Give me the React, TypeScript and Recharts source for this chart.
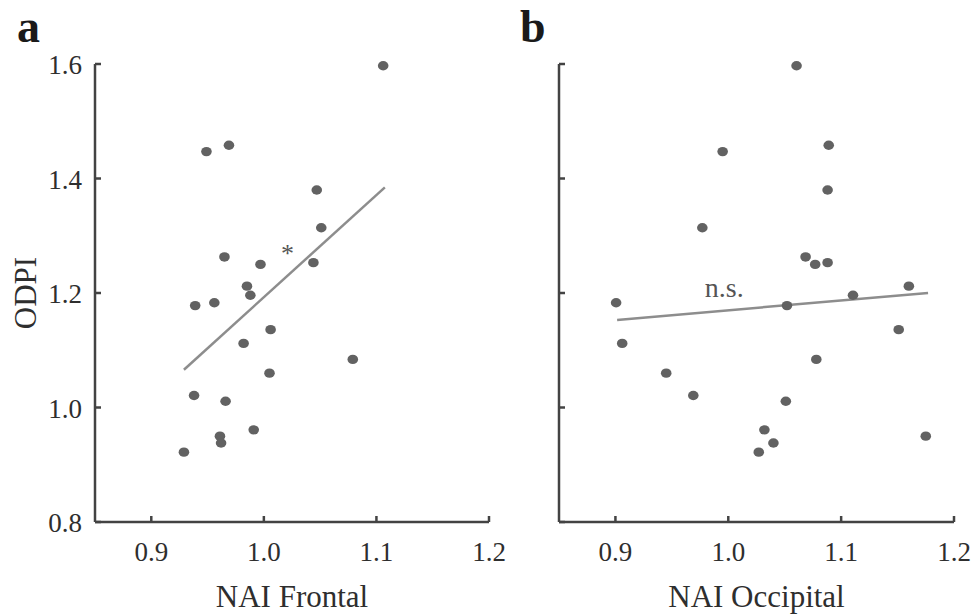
import React from 'react';
import { ScatterChart, Scatter, XAxis, YAxis, ReferenceDot } from 'recharts';

// ODPI per subject, shared by both panels
const odpi = [
  1.597, 1.458, 1.447, 1.38, 1.314, 1.263, 1.253, 1.25, 1.212, 1.196, 1.183,
  1.178, 1.136, 1.112, 1.084, 1.06, 1.021, 1.011, 0.961, 0.95, 0.938, 0.922,
];
const naiFrontal = [
  1.106, 0.969, 0.949, 1.047, 1.051, 0.965, 1.044, 0.997, 0.985, 0.988, 0.956,
  0.939, 1.006, 0.982, 1.079, 1.005, 0.938, 0.966, 0.991, 0.961, 0.962, 0.929,
];
const naiOccipital = [
  1.0605, 1.089, 0.995, 1.088, 0.977, 1.0685, 1.088, 1.077, 1.16, 1.1105, 0.9006,
  1.052, 1.151, 0.906, 1.078, 0.945, 0.969, 1.051, 1.032, 1.175, 1.04, 1.027,
];

// regression line end points
const fitFrontal = [
  { x: 0.929, y: 1.066 },
  { x: 1.1075, y: 1.3845 },
];
const fitOccipital = [
  { x: 0.9015, y: 1.153 },
  { x: 1.177, y: 1.2 },
];

const xTicks = [0.9, 1.0, 1.1, 1.2];
const yTicks = [0.8, 1.0, 1.2, 1.4, 1.6];
const xDomain = [0.85, 1.2];
const yDomain = [0.8, 1.6];

const FONT = '"Liberation Serif", "Times New Roman", serif';
const AXIS = '#434343';
const TEXT = '#2e2e2e';
const DOT = '#626262';
const FIT = '#8d8d8d';

const frontalPts = naiFrontal.map((x, i) => ({ x, y: odpi[i] }));
const occipitalPts = naiOccipital.map((x, i) => ({ x, y: odpi[i] }));

const dotShape = (p: any) => <ellipse cx={p.cx} cy={p.cy} rx={5.3} ry={4.7} fill={DOT} />;
const noShape = () => <g />;

// inward tick marks, labels outside
const XTick = (p: any) => (
  <g>
    <line x1={p.x} x2={p.x} y1={p.y} y2={p.y - 6} stroke={AXIS} strokeWidth={2.5} />
    <text x={p.x} y={p.y + 39} textAnchor="middle" fontFamily={FONT} fontSize={27} fill={TEXT}>
      {p.payload.value.toFixed(1)}
    </text>
  </g>
);
const makeYTick = (showText: boolean) => (p: any) => (
  <g>
    <line x1={p.x} x2={p.x + 6} y1={p.y} y2={p.y} stroke={AXIS} strokeWidth={2.5} />
    {showText && (
      <text x={p.x - 13} y={p.y + 10} textAnchor="end" fontFamily={FONT} fontSize={27} fill={TEXT}>
        {p.payload.value.toFixed(1)}
      </text>
    )}
  </g>
);

function Panel({
  pts,
  fit,
  xLabel,
  showY,
  note,
  width,
  margin,
  yWidth,
}: {
  pts: { x: number; y: number }[];
  fit: { x: number; y: number }[];
  xLabel: string;
  showY: boolean;
  note: { x: number; y: number; text: string; size: number };
  width: number;
  margin: { top: number; right: number; bottom: number; left: number };
  yWidth: number;
}) {
  return (
    <ScatterChart width={width} height={615} margin={margin}>
      <XAxis
        type="number"
        dataKey="x"
        domain={xDomain}
        ticks={xTicks}
        height={60}
        stroke={AXIS}
        strokeWidth={2.5}
        tickLine={false}
        tickSize={0}
        tickMargin={0}
        tick={XTick}
        label={{ value: xLabel, position: 'bottom', offset: 3, fontFamily: FONT, fontSize: 31, fill: TEXT }}
      />
      <YAxis
        type="number"
        dataKey="y"
        domain={yDomain}
        ticks={yTicks}
        width={yWidth}
        stroke={AXIS}
        strokeWidth={2.5}
        tickLine={false}
        tickSize={0}
        tickMargin={0}
        tick={makeYTick(showY)}
        label={
          showY
            ? {
                value: 'ODPI',
                angle: -90,
                position: 'insideLeft',
                offset: 5,
                fontFamily: FONT,
                fontSize: 31,
                fill: TEXT,
                style: { textAnchor: 'middle' },
              }
            : undefined
        }
      />
      <Scatter
        data={fit}
        line={{ stroke: FIT, strokeWidth: 2.5 }}
        shape={noShape}
        isAnimationActive={false}
      />
      <Scatter data={pts} shape={dotShape} isAnimationActive={false} />
      <ReferenceDot
        x={note.x}
        y={note.y}
        r={0}
        shape={(p: any) => (
          <text x={p.cx} y={p.cy} textAnchor="middle" fontFamily={FONT} fontSize={note.size} fill="#555">
            {note.text}
          </text>
        )}
      />
    </ScatterChart>
  );
}

export default function App() {
  return (
    <div style={{ position: 'absolute', left: 0, top: 0, width: 971, height: 615, background: '#fff' }}>
      <div style={{ position: 'absolute', left: 0, top: 0 }}>
        <Panel
          pts={frontalPts}
          fit={fitFrontal}
          xLabel="NAI Frontal"
          showY
          note={{ x: 1.021, y: 1.2545, text: '*', size: 26 }}
          width={530}
          margin={{ top: 64, right: 41, bottom: 33, left: 20 }}
          yWidth={75}
        />
      </div>
      <div style={{ position: 'absolute', left: 500, top: 0 }}>
        <Panel
          pts={occipitalPts}
          fit={fitOccipital}
          xLabel="NAI Occipital"
          showY={false}
          note={{ x: 0.9964, y: 1.1934, text: 'n.s.', size: 28 }}
          width={471}
          margin={{ top: 64, right: 17, bottom: 33, left: 0 }}
          yWidth={59}
        />
      </div>
      <div style={{ position: 'absolute', left: 17, top: 4, fontFamily: FONT, fontWeight: 'bold', fontSize: 46, lineHeight: 1, color: '#1a1a1a' }}>a</div>
      <div style={{ position: 'absolute', left: 520, top: 4, fontFamily: FONT, fontWeight: 'bold', fontSize: 46, lineHeight: 1, color: '#1a1a1a' }}>b</div>
    </div>
  );
}
